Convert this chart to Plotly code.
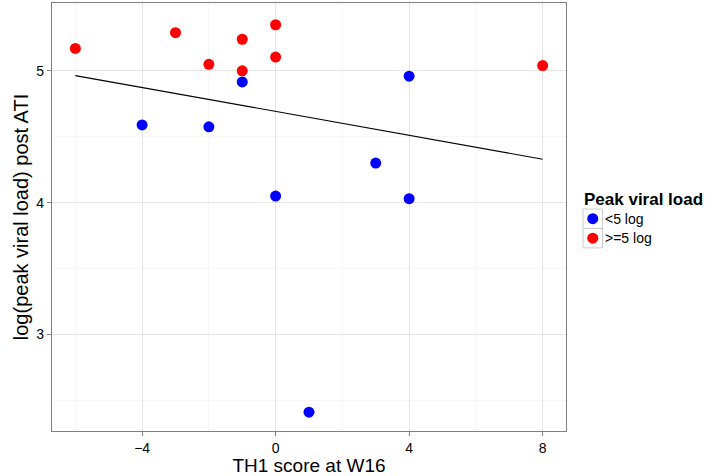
import numpy as np
import plotly.graph_objects as go

# Data
low_x = [-4, -2, -1, 4, 0, 3, 4, 1]
low_y = [4.59, 4.575, 4.916, 4.96, 4.05, 4.30, 4.03, 2.41]
high_x = [-6, -3, -2, -1, -1, 0, 0, 8]
high_y = [5.17, 5.29, 5.05, 5.24, 5.00, 5.35, 5.105, 5.04]
group_names = ["<5 log", ">=5 log"]
group_colors = ["#0000FF", "#FF0000"]
legend_title = "Peak viral load"
x_ticks = [-4, 0, 4, 8]
y_ticks = [3, 4, 5]

all_x = np.array(low_x + high_x, dtype=float)
all_y = np.array(low_y + high_y, dtype=float)
slope, intercept = np.polyfit(all_x, all_y, 1)
fx = np.array([all_x.min(), all_x.max()])
fy = slope * fx + intercept

FONT = "Liberation Sans, Arial, Helvetica, sans-serif"

fig = go.Figure()
fig.add_trace(go.Scatter(x=fx, y=fy, mode="lines", line=dict(color="black", width=1.1),
                         showlegend=False, hoverinfo="skip"))
fig.add_trace(go.Scatter(x=low_x, y=low_y, mode="markers", name=group_names[0], showlegend=False,
                         marker=dict(color=group_colors[0], size=11, line=dict(width=0))))
fig.add_trace(go.Scatter(x=high_x, y=high_y, mode="markers", name=group_names[1], showlegend=False,
                         marker=dict(color=group_colors[1], size=11, line=dict(width=0))))

axis_common = dict(
    showline=True, mirror=True, linecolor="#7f7f7f", linewidth=1.2,
    showgrid=True, gridcolor="#e5e5e5", gridwidth=1,
    ticks="outside", ticklen=4, tickcolor="#7f7f7f", tickwidth=1,
    zeroline=False, tickfont=dict(family=FONT, size=14, color="black"),
)

# legend drawn manually (paper coords; panel spans 52..566 px wide, 2..432 px tall)
def px_x(p):
    return (p - 52) / 514.0

def px_y(p):
    return (432 - p) / 430.0

shapes = []
annotations = [dict(text="<b>" + legend_title + "</b>", xref="paper", yref="paper",
                    x=px_x(582), y=px_y(188), xanchor="left", yanchor="top",
                    showarrow=False, font=dict(family=FONT, size=17, color="black"))]
key_top = 209.0
key_h = 19.5
for i, (name, col) in enumerate(zip(group_names, group_colors)):
    top = key_top + i * key_h
    bot = top + key_h
    cy = (top + bot) / 2
    shapes.append(dict(type="rect", xref="paper", yref="paper",
                       x0=px_x(583), x1=px_x(602.5), y0=px_y(bot), y1=px_y(top),
                       line=dict(color="#cccccc", width=1), fillcolor="rgba(0,0,0,0)"))
    shapes.append(dict(type="circle", xref="paper", yref="paper",
                       x0=px_x(592.75 - 5.5), x1=px_x(592.75 + 5.5),
                       y0=px_y(cy + 5.5), y1=px_y(cy - 5.5),
                       line=dict(width=0), fillcolor=col))
    annotations.append(dict(text=name, xref="paper", yref="paper",
                            x=px_x(603), y=px_y(cy), xanchor="left", yanchor="middle",
                            showarrow=False, font=dict(family=FONT, size=14, color="black")))

fig.update_layout(
    width=720, height=476,
    margin=dict(l=52, r=154, t=2, b=44),
    plot_bgcolor="white", paper_bgcolor="white",
    font=dict(family=FONT, color="black"),
    showlegend=False,
    xaxis=dict(range=[-6.7, 8.7], tickvals=x_ticks,
               title=dict(text="TH1 score at W16", font=dict(family=FONT, size=19), standoff=5),
               minor=dict(dtick=2, tick0=0, showgrid=True, gridcolor="#f7f7f7", ticks=""),
               **axis_common),
    yaxis=dict(range=[2.267, 5.515], tickvals=y_ticks,
               title=dict(text="log(peak viral load) post ATI", font=dict(family=FONT, size=20), standoff=2),
               minor=dict(dtick=0.5, tick0=0, showgrid=True, gridcolor="#f7f7f7", ticks=""),
               **axis_common),
    shapes=shapes,
    annotations=annotations,
)

fig.write_html("out.html")
